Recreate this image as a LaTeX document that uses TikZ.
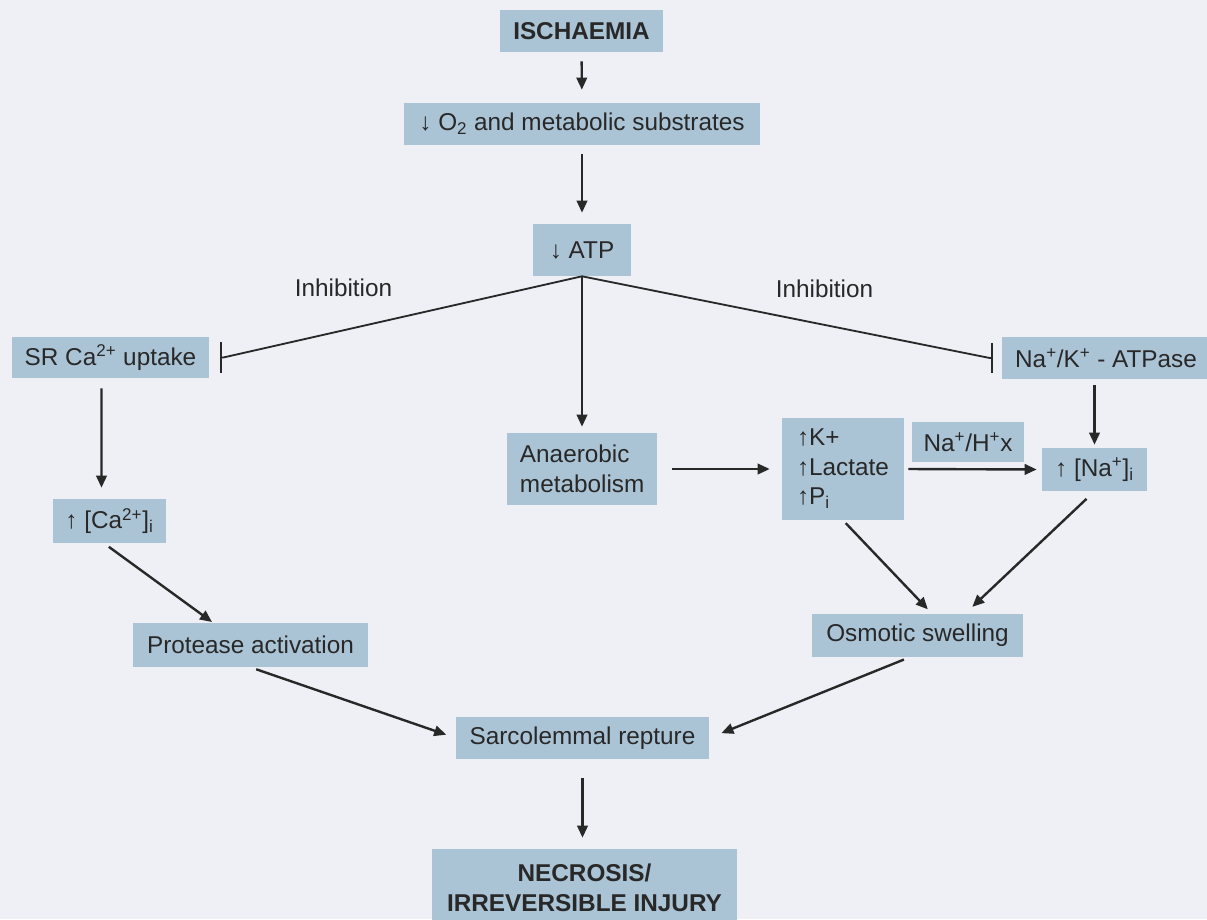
\documentclass[tikz,border=0pt]{standalone}
\usepackage{fontspec}
\setmainfont{Liberation Sans}
\usetikzlibrary{arrows.meta}
\definecolor{boxblue}{RGB}{170,196,214}
\definecolor{paper}{RGB}{239,239,246}
\definecolor{ink}{RGB}{40,40,40}

\begin{document}
\begin{tikzpicture}[x=0.025cm,y=-0.025cm]
	\tikzset{box/.style = {fill=boxblue, text=ink, inner sep=0pt, font=\fontsize{17.3}{21}\selectfont}}
	\tikzset{lbl/.style = {text=ink, font=\fontsize{17.3}{21}\selectfont}}
	\tikzset{arr/.style={draw=ink, line width=1.7pt, -{Triangle[length=0.3cm,width=0.26cm]}}}
	\tikzset{inhib/.style={draw=ink, line width=1.3pt, line join=round, -{Bar[width=0.75cm]}}}

	\useasboundingbox (0,0) rectangle (1207,919);
	\clip (0,0) rectangle (1207,919);
	\fill[paper] (0,0) rectangle (1207,919);

	% boxes
	\node[box, minimum width=4.075cm, minimum height=1.05cm] (isch) at (581.5,31) {\textbf{ISCHAEMIA}};
	\node[box, minimum width=8.9cm, minimum height=1.05cm] (otwo) at (582,124) {↓ O\textsubscript{2} and metabolic substrates};
	\node[box, minimum width=2.45cm, minimum height=1.3cm] (atp) at (582,250) {↓ ATP};
	\node[box, minimum width=4.925cm, minimum height=1.025cm] (sr) at (110.5,357.5) {SR Ca\textsuperscript{2+} uptake};
	\node[box, minimum width=5.2cm, minimum height=1.05cm] (nak) at (1106,358) {Na\textsuperscript{+}/K\textsuperscript{+} - ATPase};
	\node[box, minimum width=2.825cm, minimum height=1.1cm] (ca) at (109.5,521) {↑ [Ca\textsuperscript{2+}]\textsubscript{i}};
	\node[box, text width=3.1cm, inner xsep=0.325cm, align=left, minimum height=1.8cm] (anaer) at (582,469) {Anaerobic\\metabolism};
	\node[box, text width=2.3cm, inner xsep=0.375cm, align=left, minimum height=2.55cm] (kpl) at (843,469) {↑K+\\↑Lactate\\↑P\textsubscript{i}};
	\node[box, minimum width=2.8cm, minimum height=1.0cm] (nah) at (968,442) {Na\textsuperscript{+}/H\textsuperscript{+}x};
	\node[box, minimum width=2.625cm, minimum height=1.075cm] (na) at (1094.5,469.5) {↑ [Na\textsuperscript{+}]\textsubscript{i}};
	\node[box, minimum width=5.875cm, minimum height=1.1cm] (prot) at (250.5,645) {Protease activation};
	\node[box, minimum width=5.275cm, minimum height=1.075cm] (osm) at (917.5,635.5) {Osmotic swelling};
	\node[box, minimum width=6.325cm, minimum height=1.05cm] (sarc) at (582.5,738) {Sarcolemmal repture};
	\node[box, minimum width=7.625cm, minimum height=1.95cm, align=center] (necr) at (584.5,888) {\textbf{NECROSIS/}\\\textbf{IRREVERSIBLE INJURY}};

	% labels
	\node[lbl] (inhl) at (343.5,288) {Inhibition};
	\node[lbl] (inhr) at (824.5,289) {Inhibition};

	% edges
	\draw[arr, shorten <=0.225cm, shorten >=0.325cm] (isch) -- (otwo);
	\draw[arr, shorten <=0.225cm, shorten >=0.275cm] (otwo) -- (atp);
	\draw[arr, shorten >=0.15cm] (atp.south) -- (anaer.north);
	\draw[inhib] (atp.south) -- ([xshift=0.35cm]sr.east) -- ([xshift=0.275cm]sr.east);
	\draw[inhib] (atp.south) -- ([xshift=-0.3cm]nak.west) -- ([xshift=-0.225cm]nak.west);
	\draw[arr, shorten <=0.25cm, shorten >=0.275cm] ([xshift=-0.225cm]sr.south) -- ([xshift=-0.2cm]ca.north);
	\draw[arr, shorten <=0.15cm, shorten >=0.03cm] ([xshift=-0.1375cm]ca.south) -- ([xshift=-0.9375cm]prot.north);
	\draw[arr, shorten <=0.15cm, shorten >=0.25cm] (prot.south) -- (sarc.west);
	\draw[arr, shorten <=0.375cm, shorten >=0.3cm] (anaer.east) -- (kpl.west);
	\draw[arr, shorten <=0.1cm, shorten >=0.125cm] (kpl.east) -- (na.west);
	\draw[arr, shorten <=0.15cm, shorten >=0.075cm] (nak.south -| na.north) -- (na.north);
	\draw[arr, shorten <=0.1cm, shorten >=0.15cm] (kpl.south) -- ([xshift=0.3625cm]osm.north);
	\draw[arr, shorten <=0.275cm, shorten >=0.25cm] (na.south) -- ([xshift=1.1875cm]osm.north);
	\draw[arr, shorten <=0.15cm, shorten >=0.325cm] ([xshift=-0.2cm]osm.south) -- (sarc.east);
	\draw[arr, shorten <=0.475cm, shorten >=0.275cm] (sarc.south) -- (sarc.south |- necr.north);
\end{tikzpicture}
\end{document}
